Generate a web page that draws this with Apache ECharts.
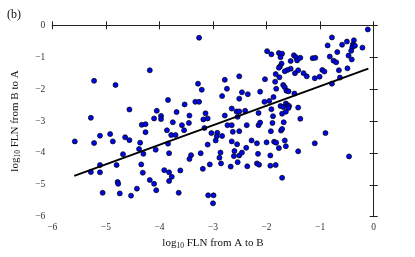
<!DOCTYPE html>
<html><head><meta charset="utf-8">
<script src="https://cdn.jsdelivr.net/npm/echarts@6/dist/echarts.min.js"></script>
<style>html,body{margin:0;padding:0;background:#fff}#c{width:415px;height:257px}</style>
</head><body><div id="c"></div>
<script>
// log10 FLN from A to B (x) and from B to A (y)
const flnAtoB = [
-4.18,-5.22,-4.82,-3.84,-4.56,-4.05,-5.28,-4.10,-3.97,-3.97,
-3.26,-1.99,-3.28,-2.78,-2.51,-3.21,-2.74,-2.03,-2.46,-2.35,
-2.12,-2.83,-2.51,-3.33,-3.26,-3.53,-2.04,-1.95,-2.65,-3.68,
-3.14,-2.56,-2.51,-2.40,-2.15,-3.44,-3.10,-3.18,-2.78,-2.54,
-0.11,-0.78,-0.86,-0.59,-0.50,-0.37,-0.39,-0.40,-0.42,-0.35,
-0.21,-0.68,-1.91,-1.77,-1.71,-1.74,-1.49,-1.45,-1.43,-1.37,
-1.55,-1.72,-1.75,-1.77,-1.14,-1.09,-0.82,-0.75,-0.70,-0.47,
-0.41,-0.49,-0.65,-0.96,-0.92,-1.55,-1.61,-1.66,-1.41,-1.47,
-1.31,-1.25,-1.10,-1.01,-0.63,-0.78,-1.83,-1.76,-1.84,-1.69,
-1.66,-1.63,-1.59,-1.82,-1.48,-1.87,-1.74,-1.69,-1.64,-1.61,
-1.58,-1.59,-1.91,-1.71,-1.64,-1.41,-4.33,-4.26,-4.26,-3.86,
-5.58,-5.11,-4.92,-4.87,-5.22,-4.64,-4.56,-4.36,-4.38,-4.30,
-4.07,-3.84,-4.68,-5.11,-4.80,-5.28,-5.11,-4.34,-4.31,-3.91,
-3.82,-4.18,-4.10,-4.06,-3.82,-4.78,-4.77,-4.42,-5.06,-4.74,
-4.53,-3.45,-3.75,-3.58,-3.54,-3.78,-3.70,-3.16,-2.73,-2.65,
-2.63,-2.51,-2.37,-2.15,-2.12,-3.03,-2.92,-2.93,-2.83,-2.95,
-3.10,-2.65,-2.55,-2.28,-2.18,-2.00,-3.82,-3.23,-3.41,-3.44,
-2.86,-2.88,-2.85,-2.60,-2.61,-2.51,-2.46,-2.38,-2.16,-2.54,
-3.06,-3.19,-2.67,-2.36,-2.18,-2.14,-3.77,-3.61,-3.64,-3.09,
-2.99,-3.00,-1.88,-1.89,-1.68,-1.37,-1.92,-1.73,-1.71,-0.90,
-1.86,-1.82,-1.66,-1.64,-1.77,-1.10,-1.41,-1.93,-0.46,-1.93,
-1.83,-1.71
];
const flnBtoA = [
-1.41,-1.74,-1.87,-2.34,-2.64,-2.68,-2.90,-2.92,-2.84,-2.94,
-0.39,-0.81,-1.83,-1.71,-1.60,-2.02,-1.99,-1.69,-2.10,-2.16,
-2.08,-2.22,-2.30,-2.40,-2.40,-2.48,-2.40,-2.37,-2.61,-2.72,
-2.76,-2.70,-2.70,-2.68,-2.75,-2.83,-2.92,-2.95,-2.83,-2.87,
-0.13,-0.38,-0.63,-0.61,-0.51,-0.47,-0.60,-0.69,-0.80,-0.64,
-0.70,-0.84,-0.91,-0.87,-0.89,-1.00,-0.94,-1.00,-1.10,-1.02,
-1.12,-1.20,-1.29,-1.33,-1.03,-1.02,-0.98,-1.11,-1.16,-0.95,
-1.07,-1.35,-1.41,-1.40,-1.45,-1.36,-1.40,-1.44,-1.41,-1.50,
-1.50,-1.60,-1.66,-1.61,-1.64,-1.83,-1.53,-1.63,-1.77,-1.87,
-1.94,-2.05,-2.07,-1.99,-2.14,-2.25,-2.53,-2.56,-2.45,-2.50,
-2.53,-2.59,-2.63,-2.77,-2.71,-2.58,-3.12,-3.10,-3.35,-3.29,
-3.64,-3.46,-3.41,-3.64,-3.69,-3.51,-3.60,-3.68,-3.88,-4.03,
-3.90,-3.71,-4.04,-4.38,-4.38,-4.60,-4.61,-4.36,-4.62,-4.54,
-4.61,-4.85,-4.97,-5.17,-4.88,-4.91,-4.97,-5.12,-5.25,-5.27,
-5.34,-3.06,-3.04,-3.13,-3.29,-3.44,-3.44,-3.22,-3.13,-3.13,
-3.34,-3.32,-3.13,-3.13,-3.05,-3.38,-3.37,-3.48,-3.47,-3.61,
-3.74,-3.64,-3.73,-3.61,-3.70,-3.67,-4.01,-4.01,-4.07,-4.19,
-3.99,-4.15,-4.33,-3.94,-4.10,-4.08,-3.99,-3.84,-4.03,-4.29,
-4.36,-4.50,-4.43,-4.42,-4.33,-4.37,-4.75,-4.55,-5.25,-5.33,
-5.33,-5.58,-2.85,-3.06,-3.04,-2.93,-3.32,-3.30,-3.25,-3.38,
-3.65,-3.68,-3.61,-3.79,-3.85,-3.70,-3.95,-4.08,-4.11,-4.40,
-4.38,-4.78
];
// fitted line end points
const fitX = [-5.59, -0.10];
const fitY = [-4.72, -1.36];
const ticks = [-6,-5,-4,-3,-2,-1,0];

const points = flnAtoB.map((x,i)=>[x, flnBtoA[i]]);
const fitLine = fitX.map((x,i)=>[x, fitY[i]]);

const serif = '"Liberation Serif","DejaVu Serif",serif';
const fmt = v => String(v).replace('-', '\u2212');
const axisLine = {show:true, lineStyle:{color:'#222', width:1}};
const tick = {show:true, inside:true, length:4, lineStyle:{color:'#222', width:1}};
const rich = {sub:{fontFamily:serif, fontSize:7.5, verticalAlign:'bottom', padding:[6,0,0,0], color:'#111'}};

const chart = echarts.init(document.getElementById('c'), null, {renderer:'canvas'});
chart.setOption({
  animation:false,
  backgroundColor:'#fff',
  grid:{left:52.3, right:41.3, top:25.3, bottom:40.3, containLabel:false},
  graphic:[{type:'text', left:7, top:9, style:{text:'(b)', font:'12px '+serif, fill:'#111'}}],
  xAxis:[
    {type:'value', min:-6, max:0, interval:1, position:'bottom',
     axisLine, axisTick:tick, splitLine:{show:false},
     axisLabel:{formatter:fmt, fontFamily:serif, fontSize:9.5, color:'#333', margin:6},
     name:'log{sub|10} FLN from A to B', nameLocation:'middle', nameGap:19,
     nameTextStyle:{fontFamily:serif, fontSize:11, color:'#111', rich}},
    {type:'value', min:-6, max:0, interval:1, position:'top',
     axisLine, axisTick:tick, axisLabel:{show:false}, splitLine:{show:false}}
  ],
  yAxis:[
    {type:'value', min:-6, max:0, interval:1, position:'left',
     axisLine, axisTick:tick, splitLine:{show:false},
     axisLabel:{formatter:fmt, fontFamily:serif, fontSize:9.5, color:'#333', margin:7},
     name:'log{sub|10} FLN from B to A', nameLocation:'middle', nameGap:30, nameRotate:90,
     nameTextStyle:{fontFamily:serif, fontSize:11, color:'#111', rich}},
    {type:'value', min:-6, max:0, interval:1, position:'right',
     axisLine, axisTick:tick, axisLabel:{show:false}, splitLine:{show:false}}
  ],
  series:[
    {type:'scatter', data:points, symbolSize:5,
     itemStyle:{color:'#0008e8', borderColor:'#000', borderWidth:0.7, opacity:1}, z:3},
    {type:'line', data:fitLine, showSymbol:false, symbol:'none',
     lineStyle:{color:'#000', width:2}, z:4}
  ]
});
</script></body></html>
